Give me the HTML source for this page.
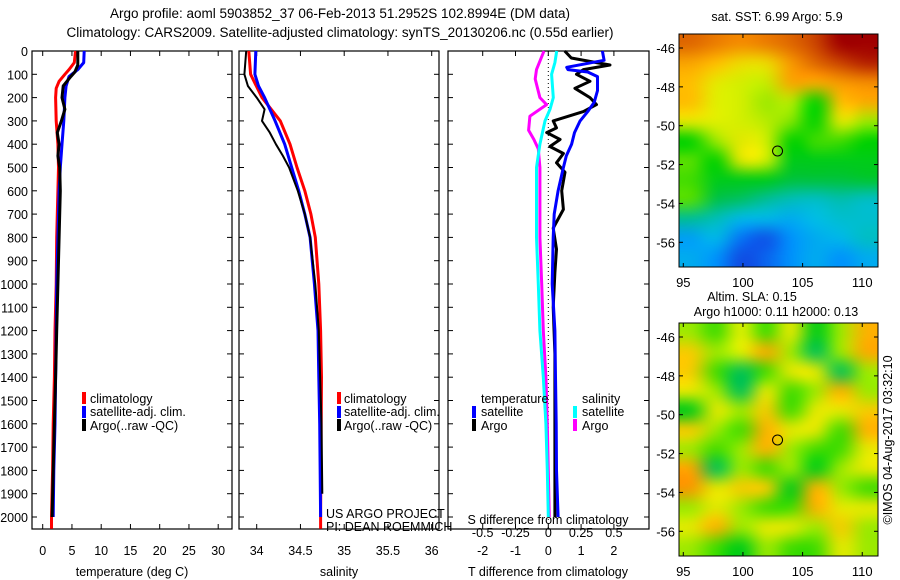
<!DOCTYPE html>
<html><head><meta charset="utf-8">
<style>
body{margin:0;background:#fff;}
svg{display:block;font-family:"Liberation Sans",sans-serif;}
text{font-size:12.5px;fill:#000;}
</style></head>
<body>
<svg id="c" width="900" height="580" viewBox="0 0 900 580">
<text x="340" y="18" text-anchor="middle" style="font-size:13.5px">Argo profile: aoml 5903852_37 06-Feb-2013 51.2952S 102.8994E (DM data)</text>
<text x="340" y="37" text-anchor="middle" style="font-size:13.5px">Climatology: CARS2009. Satellite-adjusted climatology: synTS_20130206.nc (0.55d earlier)</text>
<g id="g"></g>
</svg>
<script>
// ---- data ----
const tClimD=[0,50,80,100,130,160,200,300,400,500,600,800,1000,1200,1400,1600,1800,2000,2050];
const tClimV=[5.6,5.4,4.5,3.8,2.8,2.3,2.2,2.3,2.6,2.7,2.6,2.4,2.3,2.1,2.0,1.8,1.7,1.5,1.5];
const tSatD=[0,50,80,110,150,200,300,400,500,600,800,1000,1200,1400,1600,1800,2000];
const tSatV=[7.1,7.0,6.0,4.5,4.0,3.8,3.6,3.3,3.0,2.8,2.6,2.4,2.3,2.2,2.1,1.9,1.8];
const tArgoD=[0,60,90,110,150,200,250,300,350,400,450,500,600,800,1000,1200,1400,1600,1800,2000];
const tArgoV=[6.0,6.0,5.5,4.8,3.5,3.3,3.8,3.2,2.5,2.8,2.6,2.9,3.0,2.8,2.6,2.4,2.2,2.0,1.8,1.6];
const sClimD=[0,100,200,300,400,500,600,700,800,1000,1200,1400,2000,2050];
const sClimV=[33.91,33.93,34.06,34.27,34.38,34.46,34.55,34.62,34.67,34.71,34.73,34.74,34.73,34.73];
const sSatD=[0,100,150,200,300,400,500,600,700,800,1000,1200,1400,1600,2000];
const sSatV=[33.99,33.98,34.02,34.09,34.21,34.32,34.40,34.48,34.55,34.61,34.66,34.70,34.71,34.72,34.73];
const sArgoD=[0,100,150,200,250,300,350,400,450,500,600,700,800,1000,1200,1600,1900];
const sArgoV=[33.88,33.86,33.9,34.0,34.09,34.06,34.15,34.22,34.3,34.37,34.47,34.55,34.61,34.67,34.71,34.74,34.75];
const dTSatD=[0,40,70,80,90,110,170,220,260,300,350,400,450,500,600,700,800,1000,1200,1400,1600,1800,2000];
const dTSatV=[1.65,1.7,0.56,0.6,1.2,1.5,1.5,1.4,1.2,0.97,0.8,0.71,0.55,0.46,0.3,0.18,0.15,0.12,0.2,0.22,0.24,0.25,0.3];
const dTArgoD=[0,30,50,60,80,100,130,160,200,230,260,300,330,350,380,410,440,480,520,600,680,760,850,950,1100,1300,1500,1700,1900,2000];
const dTArgoV=[0.5,0.7,1.47,1.88,1.07,0.86,1.27,0.81,1.27,1.47,1.07,0.15,0.25,-0.05,0.36,0.05,0.46,0.25,0.51,0.41,0.46,0.15,0.25,0.2,0.15,0.2,0.2,0.2,0.2,0.2];
const dSSatD=[0,50,100,200,250,300,400,500,600,800,1000,1200,1400,1600,1800,2000];
const dSSatV=[0.064,0.05,0.025,0.038,0.013,-0.025,-0.064,-0.09,-0.09,-0.09,-0.076,-0.064,-0.038,-0.018,-0.008,0];
const dSArgoD=[0,80,120,200,230,280,340,380,420,500,600,800,1000,1200,1400,1600,1800,2000];
const dSArgoV=[-0.033,-0.09,-0.1,-0.064,-0.013,-0.14,-0.15,-0.11,-0.076,-0.064,-0.064,-0.064,-0.05,-0.038,-0.018,-0.008,0,0.008];
const depthTicks=[0,100,200,300,400,500,600,700,800,900,1000,1100,1200,1300,1400,1500,1600,1700,1800,1900,2000];
const tTicks=[0,5,10,15,20,25,30];
const sTicks=[34,34.5,35,35.5,36];
const sTickLabels=["34","34.5","35","35.5","36"];
const dTTicks=[-2,-1,0,1,2];
const dSTicks=[-0.5,-0.25,0,0.25,0.5];
const lonTicks=[95,100,105,110];
const latTicks=[-46,-48,-50,-52,-54,-56];
const sstGrid=[
[.85,.82,.8,.82,.85,.9,1,1],[.76,.72,.68,.68,.78,.85,.9,.95],[.72,.66,.64,.63,.76,.75,.78,.8],
[.72,.65,.64,.6,.62,.52,.72,.75],[.66,.65,.64,.62,.58,.52,.66,.6],[.52,.6,.66,.64,.52,.55,.55,.52],
[.56,.52,.66,.64,.5,.5,.5,.5],[.55,.5,.5,.5,.47,.47,.47,.48],[.56,.46,.44,.4,.37,.36,.38,.36],
[.4,.37,.32,.32,.3,.33,.35,.35],[.28,.32,.22,.18,.26,.3,.32,.36],[.3,.26,.17,.2,.26,.3,.26,.3]];
const slaGrid=[
[.6,.55,.65,.55,.66,.5,.6,.74],[.7,.6,.65,.75,.6,.45,.6,.75],[.7,.55,.45,.55,.66,.66,.45,.6],
[.66,.6,.45,.66,.55,.6,.74,.6],[.5,.66,.6,.7,.55,.66,.66,.7],[.7,.6,.55,.74,.66,.66,.55,.74],
[.6,.55,.6,.74,.6,.55,.55,.66],[.76,.45,.6,.55,.6,.5,.6,.66],[.78,.66,.7,.7,.5,.74,.6,.55],
[.6,.66,.6,.55,.55,.74,.66,.66],[.66,.74,.6,.66,.66,.6,.7,.6],[.6,.55,.5,.6,.55,.55,.66,.6]];
const argoLon=102.9, argoLat=-51.3;

const NS="http://www.w3.org/2000/svg";
const G=document.getElementById('g');
function mk(tag,at,parent){const e=document.createElementNS(NS,tag);for(const k in at)e.setAttribute(k,at[k]);(parent||G).appendChild(e);return e;}
const yD=d=>51+d*0.233;
const PT=51,PB=529;
function frame(x0,x1,name){
  const r=mk('rect',{x:x0,y:PT,width:x1-x0,height:PB-PT,fill:'none',stroke:'#000','stroke-width':1.2});
  
  
  depthTicks.forEach(d=>{const y=yD(d);
    mk('line',{x1:x0,x2:x0+5,y1:y,y2:y,stroke:'#000'});mk('line',{x1:x1-5,x2:x1,y1:y,y2:y,stroke:'#000'});});
}
function xticks(x0,x1,ticks,labels,fx,ly,name){
  ticks.forEach((t,i)=>{const x=fx(t);
    mk('line',{x1:x,x2:x,y1:PB,y2:PB-5,stroke:'#000'});mk('line',{x1:x,x2:x,y1:PT,y2:PT+5,stroke:'#000'});
    const tx=mk('text',{x:x,y:ly,'text-anchor':'middle'});tx.textContent=labels[i];
    
    });
}
function line(D,V,fx,color,w,name){
  const p=D.map((d,i)=>fx(V[i]).toFixed(1)+','+yD(d).toFixed(1)).join(' ');
  const e=mk('polyline',{points:p,fill:'none',stroke:color,'stroke-width':w,'stroke-linejoin':'round'});
  
  
}
function label(x,y,s,name,anchor){const t=mk('text',{x:x,y:y,'text-anchor':anchor||'start'});t.textContent=s;
  
  return t;}
function legMark(x,y,c){mk('rect',{x:x,y:y-10,width:4,height:12,fill:c});}

// Panel 1 temperature
const fT=t=>42.7+t*5.85;
frame(32,232,'temperature-panel');
depthTicks.forEach(d=>label(28,yD(d)+5,String(d),'depth-tick-label','end'));
xticks(32,232,tTicks,tTicks.map(String),fT,555,'temperature-tick-label');
label(132,576,'temperature (deg C)','temperature-axis-title','middle');
line(tClimD,tClimV,fT,'#f00',3,'temp-climatology-line');
line(tSatD,tSatV,fT,'#00f',3,'temp-satellite-line');
line(tArgoD,tArgoV,fT,'#000',3,'temp-argo-line');
legMark(82,402,'#f00');label(90,403,'climatology','legend-climatology');
legMark(82,416,'#00f');label(90,416,'satellite-adj. clim.','legend-satellite');
legMark(82,429,'#000');label(90,430,'Argo(..raw -QC)','legend-argo');

// Panel 2 salinity
const fS=s=>256.7+(s-34)*87.5;
frame(239,439,'salinity-panel');
xticks(239,439,sTicks,sTickLabels,fS,555,'salinity-tick-label');
label(339,576,'salinity','salinity-axis-title','middle');
line(sClimD,sClimV,fS,'#f00',3,'sal-climatology-line');
line(sSatD,sSatV,fS,'#00f',3,'sal-satellite-line');
line(sArgoD,sArgoV,fS,'#000',2,'sal-argo-line');
legMark(337,402,'#f00');label(344,403,'climatology','legend-climatology');
legMark(337,416,'#00f');label(344,416,'satellite-adj. clim.','legend-satellite');
legMark(337,429,'#000');label(344,430,'Argo(..raw -QC)','legend-argo');
label(326,518,'US ARGO PROJECT','credit-project');
label(326,531,'PI: DEAN ROEMMICH','credit-pi');

// Panel 3 differences
const fDT=t=>548.3+t*32.8;
const fDS=s=>548.3+s*4*32.8;
frame(448,649,'difference-panel');
mk('line',{x1:fDT(0),x2:fDT(0),y1:PT,y2:PB,stroke:'#000','stroke-dasharray':'1,3'});
xticks(448,649,dTTicks,dTTicks.map(String),fDT,555,'tdiff-tick-label');
dSTicks.forEach(s=>label(fDS(s),537,String(s),'sdiff-tick-label','middle'));
label(548,576,'T difference from climatology','tdiff-axis-title','middle');
line(dSArgoD,dSArgoV,fDS,'#f0f',3,'sdiff-argo-line');
line(dSSatD,dSSatV,fDS,'#0ff',3,'sdiff-satellite-line');
line(dTArgoD,dTArgoV,fDT,'#000',3,'tdiff-argo-line');
line(dTSatD,dTSatV,fDT,'#00f',3,'tdiff-satellite-line');
label(548,524,'S difference from climatology','sdiff-axis-title','middle');
label(481,403,'temperature','legend-temperature-heading');
legMark(472,416,'#00f');label(481,416,'satellite','legend-tdiff-satellite');
legMark(472,429,'#000');label(481,430,'Argo','legend-tdiff-argo');
label(582,403,'salinity','legend-salinity-heading');
legMark(573,416,'#0ff');label(582,416,'satellite','legend-sdiff-satellite');
legMark(573,429,'#f0f');label(582,430,'Argo','legend-sdiff-argo');

// Maps
const cmStops=[[0,[0,0,140]],[0.15,[20,60,220]],[0.25,[0,140,255]],[0.33,[0,190,230]],[0.4,[0,190,150]],[0.47,[0,195,60]],[0.52,[0,210,0]],[0.58,[130,230,0]],[0.65,[225,240,0]],[0.72,[255,190,0]],[0.8,[245,140,0]],[0.88,[210,80,0]],[1,[160,0,0]]];
function cmap(v){v=Math.max(0,Math.min(1,v));
  for(let i=1;i<cmStops.length;i++){if(v<=cmStops[i][0]){const a=cmStops[i-1],b=cmStops[i],t=(v-a[0])/(b[0]-a[0]);
    return a[1].map((c,k)=>Math.round(c+(b[1][k]-c)*t));}}
  return cmStops[cmStops.length-1][1];}
function map(top,grid,name){
  const L=679,R=878,T=top,B=top+233;
  const fx=lon=>683.3+(lon-95)*11.93, fy=lat=>T+14+(-46-lat)*19.43;
  const cv=document.createElement('canvas');cv.width=grid[0].length;cv.height=grid.length;
  const ctx=cv.getContext('2d');const im=ctx.createImageData(cv.width,cv.height);
  grid.forEach((row,j)=>row.forEach((v,i)=>{const c=cmap(v),k=(j*cv.width+i)*4;im.data[k]=c[0];im.data[k+1]=c[1];im.data[k+2]=c[2];im.data[k+3]=255;}));
  ctx.putImageData(im,0,0);
  const big=document.createElement('canvas');big.width=R-L;big.height=B-T;
  const b2=big.getContext('2d');b2.imageSmoothingEnabled=true;b2.imageSmoothingQuality='high';b2.drawImage(cv,0,0,R-L,B-T);
  const img=mk('image',{x:L,y:T,width:R-L,height:B-T,href:big.toDataURL(),preserveAspectRatio:'none'});
  
  
  const r=mk('rect',{x:L,y:T,width:R-L,height:B-T,fill:'none',stroke:'#000'});
  
  
  lonTicks.forEach(l=>{const x=fx(l);mk('line',{x1:x,x2:x,y1:B,y2:B-4,stroke:'#000'});mk('line',{x1:x,x2:x,y1:T,y2:T+4,stroke:'#000'});
    label(x,B+20,String(l),'lon-tick-label','middle').style.fontSize='13px';});
  latTicks.forEach(l=>{const y=fy(l);mk('line',{x1:L,x2:L+4,y1:y,y2:y,stroke:'#000'});mk('line',{x1:R-4,x2:R,y1:y,y2:y,stroke:'#000'});
    label(L-4,y+5,String(l),'lat-tick-label','end').style.fontSize='13px';});
  const c=mk('circle',{cx:fx(argoLon),cy:fy(argoLat),r:5,fill:'none',stroke:'#000'});
  
  
}
map(34,sstGrid,'sst-map');
label(777,21,'sat. SST: 6.99 Argo: 5.9','sst-map-title','middle');
map(323,slaGrid,'sla-map');
label(752,301,'Altim. SLA: 0.15','sla-map-title','middle');
label(776,316,'Argo h1000: 0.11 h2000: 0.13','sla-map-subtitle','middle');
const cr=label(0,0,'©IMOS 04-Aug-2017 03:32:10','copyright-label','middle');
cr.setAttribute('transform','translate(892,440) rotate(-90)');
</script>
</body></html>
